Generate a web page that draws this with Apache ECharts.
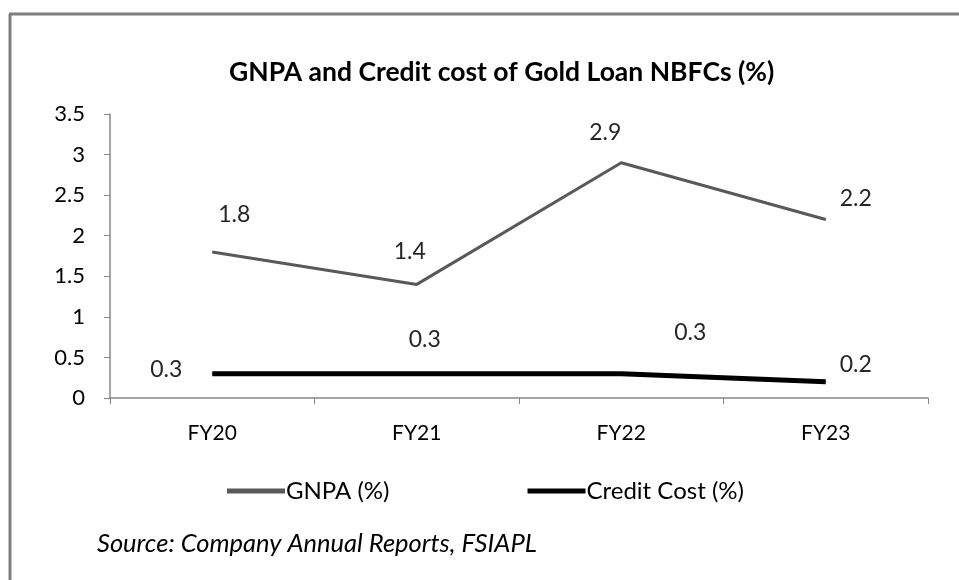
<!DOCTYPE html>
<html>
<head>
<meta charset="utf-8">
<style>
  html, body { margin: 0; padding: 0; background: #fff; }
  #chart { width: 959px; height: 580px; }
</style>
<script src="https://cdn.jsdelivr.net/npm/echarts@6/dist/echarts.min.js"></script>
</head>
<body>
<div id="chart"></div>
<script>
  var categories = ['FY20', 'FY21', 'FY22', 'FY23'];
  var gnpa = [1.8, 1.4, 2.9, 2.2];
  var creditCost = [0.3, 0.3, 0.3, 0.2];

  // label nudges, picked by eye from the reference
  var gnpaOffsets = [[22, -37], [-7, -33], [-16, -30], [30, -21]];
  var creditOffsets = [[-46, -4], [8, -34], [69, -41], [30, -17]];

  var font = 'Lato';

  function withLabels(values, offsets) {
    return values.map(function (v, i) {
      return { value: v, label: { offset: offsets[i] } };
    });
  }

  var chart = echarts.init(document.getElementById('chart'));
  chart.setOption({
    animation: false,
    backgroundColor: '#fff',
    title: {
      text: 'GNPA and Credit cost of Gold Loan NBFCs (%)',
      left: 224,
      top: 54,
      textStyle: { fontFamily: font, fontWeight: 'bold', fontSize: 26.5, color: '#000' }
    },
    grid: { left: 110, right: 31, top: 114, bottom: 182 },
    legend: {
      left: 222,
      top: 474,
      itemGap: 138,
      itemWidth: 58,
      itemHeight: 5,
      selectedMode: false,
      textStyle: { fontFamily: font, fontSize: 24, color: '#000', padding: [0, 0, 0, -4] },
      data: [
        { name: 'GNPA (%)', icon: 'rect' },
        { name: 'Credit Cost (%)', icon: 'rect' }
      ]
    },
    xAxis: {
      type: 'category',
      data: categories,
      axisLine: { lineStyle: { color: '#868686', width: 1.5 } },
      axisTick: { show: true, length: 6, lineStyle: { color: '#868686' } },
      axisLabel: { margin: 25, fontFamily: font, fontSize: 21, color: '#000' }
    },
    yAxis: {
      type: 'value',
      min: 0,
      max: 3.5,
      interval: 0.5,
      axisLine: { show: true, lineStyle: { color: '#868686', width: 1.5 } },
      axisTick: { show: true, length: 6, lineStyle: { color: '#868686' } },
      axisLabel: { margin: 25, fontFamily: font, fontSize: 22, color: '#000' },
      splitLine: { show: false }
    },
    series: [
      {
        name: 'GNPA (%)',
        type: 'line',
        data: withLabels(gnpa, gnpaOffsets),
        symbol: 'circle',
        symbolSize: 1,
        color: '#595959',
        lineStyle: { color: '#595959', width: 3 },
        label: { show: true, position: 'inside', fontFamily: font, fontSize: 23, color: '#262626' }
      },
      {
        name: 'Credit Cost (%)',
        type: 'line',
        data: withLabels(creditCost, creditOffsets),
        symbol: 'circle',
        symbolSize: 1,
        color: '#000',
        lineStyle: { color: '#000', width: 5 },
        label: { show: true, position: 'inside', fontFamily: font, fontSize: 23, color: '#262626' }
      }
    ],
    graphic: [
      { type: 'line', shape: { x1: 9, y1: 14, x2: 959, y2: 14 }, style: { stroke: '#7f7f7f', lineWidth: 3 } },
      { type: 'line', shape: { x1: 10, y1: 14, x2: 10, y2: 580 }, style: { stroke: '#7f7f7f', lineWidth: 3 } },
      {
        type: 'text',
        left: 97,
        top: 531,
        style: {
          text: 'Source: Company Annual Reports, FSIAPL',
          fontFamily: font,
          fontStyle: 'italic',
          fontSize: 25.5,
          fill: '#000'
        }
      }
    ]
  });
</script>
</body>
</html>
